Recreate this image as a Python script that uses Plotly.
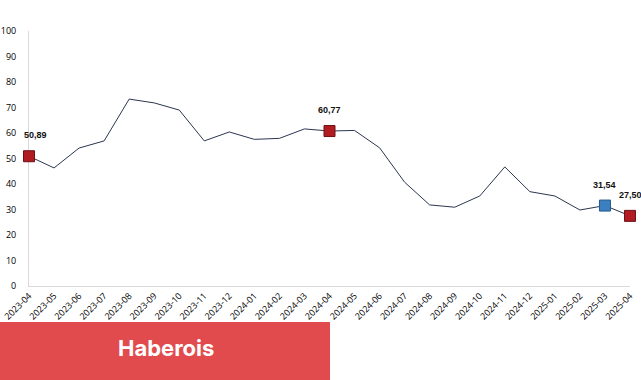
import plotly.graph_objects as go

months = ["2023-04","2023-05","2023-06","2023-07","2023-08","2023-09","2023-10","2023-11","2023-12",
          "2024-01","2024-02","2024-03","2024-04","2024-05","2024-06","2024-07","2024-08","2024-09",
          "2024-10","2024-11","2024-12","2025-01","2025-02","2025-03","2025-04"]
values = [50.89, 46.3, 54.1, 56.9, 73.3, 71.8, 69.0, 56.9, 60.4,
          57.5, 57.9, 61.6, 60.77, 61.0, 54.2, 40.7, 31.8, 30.9,
          35.3, 46.7, 37.0, 35.3, 29.8, 31.54, 27.50]
red_points = ["2023-04", "2024-04", "2025-04"]
blue_points = ["2025-03"]
y_ticks = [0, 10, 20, 30, 40, 50, 60, 70, 80, 90, 100]

idx = list(range(len(months)))
def fmt(v):
    return f"{v:.2f}".replace(".", ",")

fig = go.Figure()
fig.add_trace(go.Scatter(x=idx, y=values, mode="lines",
                         line=dict(color="#2b3650", width=1), hoverinfo="skip", showlegend=False))
ri = [months.index(m) for m in red_points]
bi = [months.index(m) for m in blue_points]
fig.add_trace(go.Scatter(x=ri, y=[values[i] for i in ri], mode="markers",
                         marker=dict(symbol="square", size=11, color="#b01c22",
                                     line=dict(color="#6e1014", width=1)),
                         showlegend=False, cliponaxis=False))
fig.add_trace(go.Scatter(x=bi, y=[values[i] for i in bi], mode="markers",
                         marker=dict(symbol="square", size=11, color="#3a80c0",
                                     line=dict(color="#26578a", width=1)),
                         showlegend=False, cliponaxis=False))

for i in ri + bi:
    fig.add_annotation(x=i, y=values[i], text="<b>" + fmt(values[i]) + "</b>", showarrow=False,
                       yshift=21, xshift=(6 if i == 0 else 0),
                       font=dict(family="Liberation Sans, Arial", size=9, color="#111"))

fig.add_shape(type="rect", xref="paper", yref="paper",
              x0=(0 - 29) / 601, x1=(330 - 29) / 601,
              y0=-(380 - 286) / 255, y1=-(322 - 286) / 255,
              fillcolor="#e14b4e", line=dict(width=0), layer="above")
fig.add_annotation(xref="paper", yref="paper", x=(166 - 29) / 601, y=-(348 - 286) / 255,
                   xanchor="center", yanchor="middle",
                   text="<b>Haberois</b>", showarrow=False,
                   font=dict(family="Inter, Roboto", size=22, color="white"))

fig.update_layout(
    width=641, height=380,
    margin=dict(l=29, r=11, t=31, b=94, autoexpand=False),
    paper_bgcolor="white", plot_bgcolor="white",
    xaxis=dict(range=[0, 24], tickmode="array", tickvals=idx, ticktext=months,
               tickangle=-45, showgrid=False, zeroline=False, automargin=False,
               showline=True, linecolor="#d9d9d9", linewidth=1, layer="below traces",
               tickfont=dict(family="Open Sans, Arial", size=9, color="#000")),
    yaxis=dict(range=[0, 100], tickmode="array", tickvals=y_ticks, automargin=False,
               showgrid=False, zeroline=False, showline=True, linecolor="#d9d9d9", linewidth=1,
               ticklabelstandoff=10, layer="below traces",
               tickfont=dict(family="Open Sans, Arial", size=9, color="#000")),
)
fig.write_html("out.html")
